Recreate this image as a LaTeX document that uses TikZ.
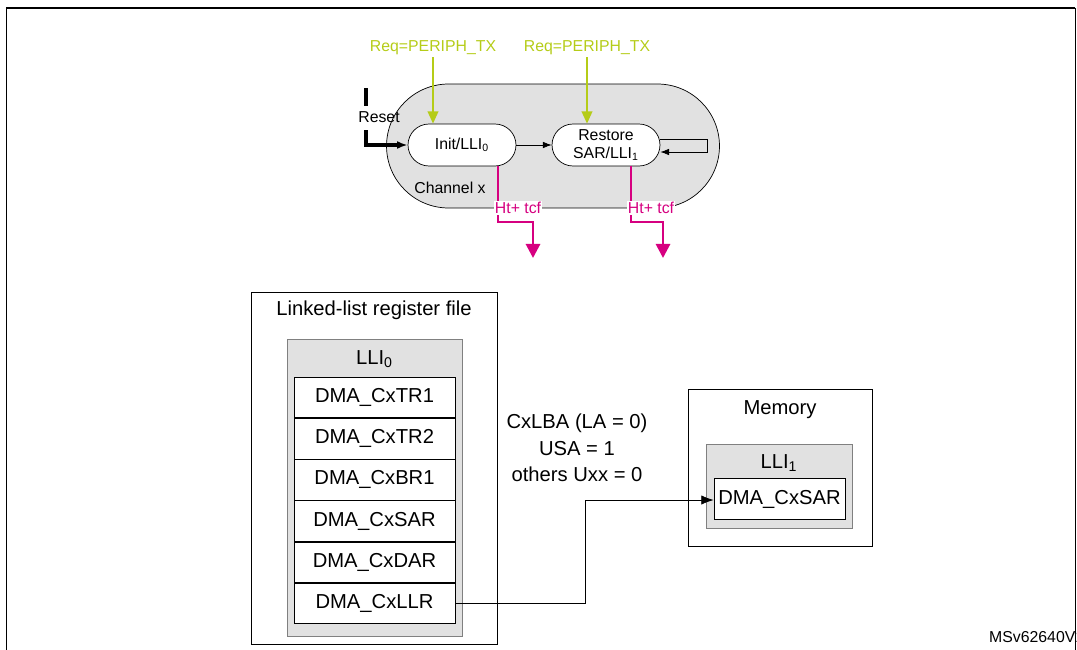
\documentclass[tikz,border=0pt]{standalone}
\usepackage{fontspec}
\setmainfont{Liberation Sans}
\usetikzlibrary{positioning,arrows.meta}
\definecolor{reqgreen}{RGB}{181,204,24}
\definecolor{htmag}{RGB}{214,0,128}
\definecolor{boxgrey}{RGB}{225,225,225}

\begin{document}
\begin{tikzpicture}[x=0.02cm,y=-0.02cm,node distance=0pt,
                    state node/.style={draw,fill=white,rounded corners=0.42cm,minimum width=2.16cm,minimum height=0.84cm,inner sep=0pt,align=center,font=\fontsize{9}{10}\selectfont},
                    reg node/.style={draw,fill=white,minimum width=3.22cm,minimum height=0.81cm,inner sep=0pt,font=\fontsize{11.5}{13}\selectfont},
                    small text/.style={font=\fontsize{9}{10}\selectfont,inner sep=1pt},
                    big text/.style={font=\fontsize{11.5}{15}\selectfont,align=center}]

  \useasboundingbox (0,0) rectangle (1077,649);
  \draw[line width=1.2pt] (6,8) -- (1075,8);
  \draw (6,8) -- (6,660) (1075,8) -- (1075,660);

  % channel
  \node[draw,fill=boxgrey,rounded corners=1.24cm,minimum width=6.66cm,minimum height=2.48cm] (chan) at (553,146) {};
  \node[state node] (init) at (462,145) {Init/LLI\textsubscript{0}};
  \node[state node] (rest) at (606,145) {Restore\\SAR/LLI\textsubscript{1}};
  \node[small text] (chx) at (450,188) {Channel x};
  \draw[-{Latex[length=5pt]}] (init) -- (rest);
  \coordinate (l1) at (707,139);
  \draw[-{Latex[length=5pt]}] (rest.east |- l1) -- (l1) -- ++(0,13) -- (rest.east |- 0,152);

  % reset
  \node[small text] (rst) at (379,117) {Reset};
  \draw[line width=2pt] (366,88) -- (366,106);
  \draw[line width=2pt,-{Latex[length=6pt]}] (366,130) -- (366,145) -- (init.west);

  % requests
  \node[small text,text=reqgreen] (req1) at (433,48) {Req=PERIPH\_TX};
  \node[small text,text=reqgreen] (req2) at (587,48) {Req=PERIPH\_TX};
  \draw[reqgreen,line width=1.2pt,-{Triangle[length=7pt,width=6pt]}] (req1) -- (init.north -| req1);
  \draw[reqgreen,line width=1.2pt,-{Triangle[length=7pt,width=6pt]}] (req2) -- (rest.north -| req2);

  % half transfer / transfer complete
  \foreach \src/\xa/\xb in {init/498/533,rest/631/663}{
    \coordinate (d\src) at (\xb,258);
    \draw[htmag,line width=1.6pt,-{Triangle[length=8pt,width=8pt]}] (\src.south -| \xa,0) -- (\xa,222) -- (\xb,222) -- (d\src);
    \node[small text,text=htmag,fill=white,inner sep=0.5pt] at (\xa+20,208) {Ht+ tcf};
  }

  % linked-list register file
  \node[draw,minimum width=4.92cm,minimum height=7.04cm,inner sep=0pt] (llrf) at (374,468) {};
  \node[big text] (llrft) at (374,310) {Linked-list register file};
  \node[draw=gray,fill=boxgrey,minimum width=3.5cm,minimum height=5.94cm,inner sep=0pt] (lli0) at (374.5,487.5) {};
  \node[big text] (lli0t) at (374.5,359) {LLI\textsubscript{0}};
  \node[reg node] (tr1) at (374.5,397.5) {DMA\_CxTR1};
  \node[reg node] (tr2) [below=of tr1] {DMA\_CxTR2};
  \node[reg node] (br1) [below=of tr2] {DMA\_CxBR1};
  \node[reg node] (sar) [below=of br1] {DMA\_CxSAR};
  \node[reg node] (dar) [below=of sar] {DMA\_CxDAR};
  \node[reg node] (llr) [below=of dar] {DMA\_CxLLR};

  % memory
  \node[draw,minimum width=3.68cm,minimum height=3.14cm,inner sep=0pt] (mem) at (780,467.5) {};
  \node[big text] (memt) at (780,410) {Memory};
  \node[draw=gray,fill=boxgrey,minimum width=2.92cm,minimum height=1.68cm,inner sep=0pt] (lli1) at (779,486) {};
  \node[big text] (lli1t) at (779,463) {LLI\textsubscript{1}};
  \node[reg node,minimum width=2.62cm] (msar) at (779.5,499) {DMA\_CxSAR};

  \node[big text] (ulbl) at (577,448) {CxLBA (LA = 0)\\USA = 1\\others Uxx = 0};
  \draw[-{Latex[length=7pt]}] (llr.east) -| (585,500) -- (msar.west |- 0,500);

  \node[font=\fontsize{9}{10}\selectfont,anchor=west] (ref) at (983,637) {MSv62640V1};
\end{tikzpicture}
\end{document}
